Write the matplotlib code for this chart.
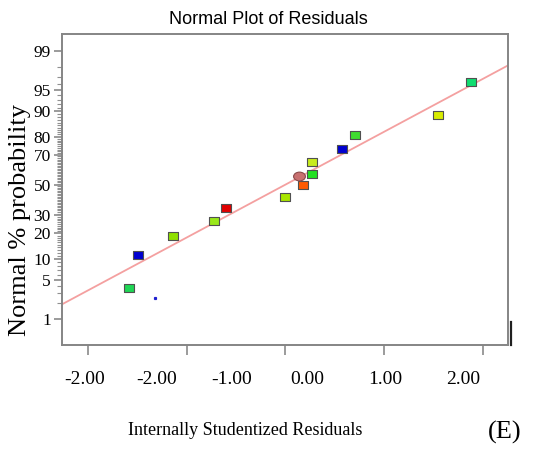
import matplotlib.pyplot as plt
import numpy as np
from matplotlib.markers import MarkerStyle
from matplotlib.transforms import Affine2D
from statistics import NormalDist

# residuals (x) and normal % probability (y)
resid = [-1.585, -1.494, -1.139, -0.724, -0.603, -0.005, 0.177,
         0.268, 0.268, 0.572, 0.704, 1.544, 1.878]
prob = [3.7, 11.2, 18.8, 26.6, 34.5, 41.8, 50.0,
        57.6, 65.5, 73.4, 80.7, 88.8, 96.3]
colors = ['#1fd655', '#0000d0', '#8fe000', '#9ae81a', '#e00000', '#a8e600',
          '#ff5a00', '#22e022', '#c8ec1e', '#0000d0', '#40dc30', '#d8ec00',
          '#10dd70']

# highlighted point (ellipse) and the stray dot
hl_resid, hl_prob = 0.137, 56.2
dot_resid, dot_prob = -1.32, 2.5

y_major = [1, 5, 10, 20, 30, 50, 70, 80, 90, 95, 99]
x_ticks = [-2, -1, 0, 1, 2]
x_labels = ['-2.00', '-2.00', '-1.00', '0.00', '1.00', '2.00']
x_label_pos = [-2.03, -1.30, -0.55, 0.22, 1.01, 1.80]

nd = NormalDist()
def z(p):
    if np.ndim(p) == 0:
        return nd.inv_cdf(p / 100.0)
    return np.array([nd.inv_cdf(v / 100.0) for v in p])

zy = z(prob)

fig = plt.figure(figsize=(5.5, 4.51), dpi=100)
ax = fig.add_axes([0.1127, 0.235, 0.8109, 0.6896])

# fit line
m, b = np.polyfit(resid, zy, 1)
xl = np.array([-2.263, 2.253])
ax.plot(xl, m * xl + b, color='#f4a0a0', lw=1.3, zorder=1)

rect = [(-1.2, -1), (1.2, -1), (1.2, 1), (-1.2, 1), (-1.2, -1)]
for xv, yv, c in zip(resid, zy, colors):
    ax.plot(xv, yv, marker=rect, ms=6.8, mfc=c, mec='#505050', mew=0.8,
            ls='none', zorder=3)

ell = MarkerStyle('o', transform=Affine2D().scale(1.35, 1.0))
ax.plot(hl_resid, z(hl_prob), marker=ell, ms=6.3, mfc='#c87070',
        mec='#8a4a4a', mew=0.8, ls='none', zorder=4)
ax.plot(dot_resid, z(dot_prob), marker='s', ms=1.3, color='#2020d0',
        ls='none')

ax.set_xlim(-2.263, 2.253)
ax.set_ylim(-2.778, 2.622)

# y axis: normal probability scale
ax.set_yticks([z(p) for p in y_major])
ax.set_yticklabels([str(p) for p in y_major], family='Liberation Serif',
                   fontsize=12.5)
minor = [p for p in range(1, 100) if p not in y_major]
ax.set_yticks([z(p) for p in minor], minor=True)
ax.tick_params(axis='y', which='major', length=6, width=1.1, color='#808080',
               pad=2)
ax.tick_params(axis='y', which='minor', length=3.5, width=0.8,
               color='#909090')

# x axis: tick marks and the (shifted) labels
ax.set_xticks(x_ticks)
ax.set_xticklabels([''] * len(x_ticks))
ax.set_xticks(x_label_pos, minor=True)
ax.set_xticklabels(x_labels, minor=True, family='Liberation Serif',
                   fontsize=14)
ax.tick_params(axis='x', which='major', length=7, width=1.1, color='#808080')
ax.tick_params(axis='x', which='minor', length=0, pad=19)

for s in ax.spines.values():
    s.set_color('#858585')
    s.set_linewidth(1.4)

ax.plot([1.006, 1.006], [0.0, 0.075], transform=ax.transAxes, color='#202020',
        lw=1.6, clip_on=False)

fig.text(0.488, 0.956, 'Normal Plot of Residuals',
         family='Liberation Sans', fontsize=13,
         ha='center', va='center')
fig.text(0.036, 0.512, 'Normal % probability', family='Liberation Serif',
         fontsize=19, rotation=90, ha='center', va='center')
fig.text(0.445, 0.045, 'Internally Studentized Residuals',
         family='Liberation Serif', fontsize=13, ha='center', va='center')
fig.text(0.918, 0.042, '(E)', family='Liberation Serif', fontsize=19,
         ha='center', va='center')

fig.savefig('out.png', dpi=100)
